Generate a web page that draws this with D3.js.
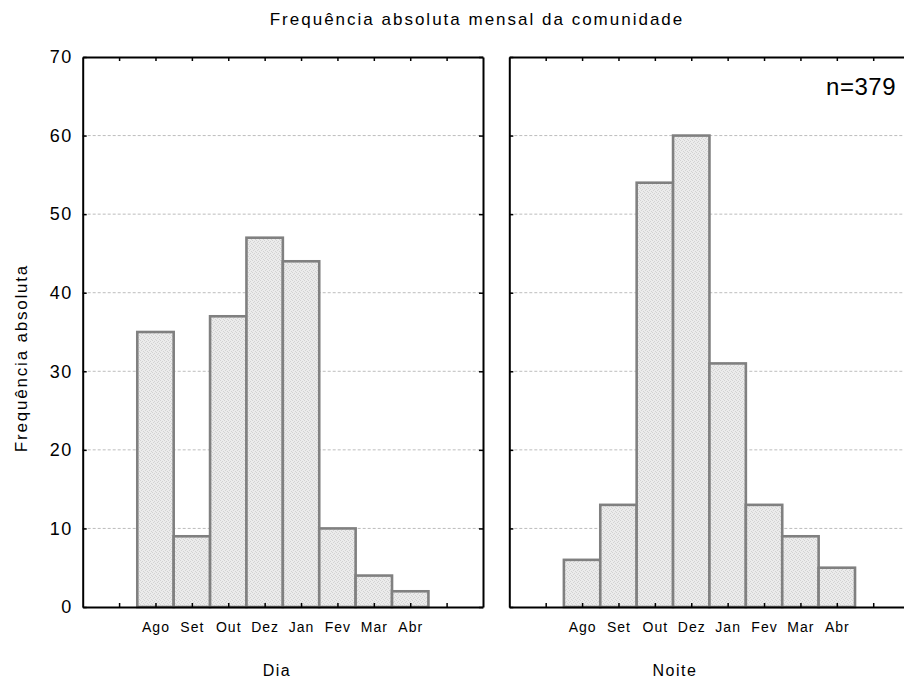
<!DOCTYPE html>
<html><head><meta charset="utf-8">
<script src="https://cdn.jsdelivr.net/npm/d3@7"></script>
<style>
body{margin:0;background:#fff;}
svg{display:block;font-family:Arial,"Liberation Sans",sans-serif;}
</style></head><body>
<svg id="chart" width="904" height="680"></svg>
<script>
const months = ["Ago","Set","Out","Dez","Jan","Fev","Mar","Abr"];
const diaValues = [35, 9, 37, 47, 44, 10, 4, 2];
const noiteValues = [6, 13, 54, 60, 31, 13, 9, 5];
const yTicks = [0,10,20,30,40,50,60,70];
const gridTicks = [10,20,30,40,50,60];
const xTicks = [0,1,2,3,4,5,6,7,8,9];
const panelNames = ["Dia","Noite"];
const title = "Frequência absoluta mensal da comunidade";
const yTitle = "Frequência absoluta";
const nLabel = "n=379";

const svg = d3.select("#chart");
const defs = svg.append("defs");
const pat = defs.append("pattern").attr("id","dots").attr("patternUnits","userSpaceOnUse")
  .attr("width",4).attr("height",4);
pat.append("rect").attr("width",4).attr("height",4).attr("fill","#ebebeb");
[[0,0],[2,1],[1,2],[3,3]].forEach(([a,b]) =>
  pat.append("rect").attr("x",a).attr("y",b).attr("width",1).attr("height",1).attr("fill","#d2d2d2"));

const y = d3.scaleLinear().domain([0,70]).range([607,57]);
const panels = [
  {x: d3.scaleLinear().domain([-1,10]).range([82.7,483]), values: diaValues, name: panelNames[0], labelX: 277, right: true, leftLabels: true},
  {x: d3.scaleLinear().domain([-1,10]).range([509.3,909.6]), values: noiteValues, name: panelNames[1], labelX: 675, right: false, leftLabels: false}
];

panels.forEach(p => {
  const g = svg.append("g");
  const [x0,x1] = p.x.range();
  g.selectAll("line.grid").data(gridTicks).join("line")
    .attr("x1",x0).attr("x2",x1).attr("y1",d=>y(d)).attr("y2",d=>y(d))
    .attr("stroke","#bdbdbd").attr("stroke-width",1).attr("stroke-dasharray","3,2");
  g.selectAll("rect.bar").data(p.values).join("rect")
    .attr("x",(d,i)=>p.x(i+0.5))
    .attr("width",(d,i)=>p.x(i+1.5)-p.x(i+0.5))
    .attr("y",d=>y(d)).attr("height",d=>y(0)-y(d))
    .attr("fill","url(#dots)").attr("stroke","#808080").attr("stroke-width",2.6);
  const bottom = g.append("g").attr("transform",`translate(0,${y(0)})`)
    .call(d3.axisBottom(p.x).tickValues(xTicks).tickSize(-4).tickSizeOuter(0).tickPadding(15)
      .tickFormat(d => months[d-1] || ""));
  const top = g.append("g").attr("transform",`translate(0,${y(70)})`)
    .call(d3.axisTop(p.x).tickValues(xTicks).tickSize(-4).tickSizeOuter(0).tickFormat(""));
  const left = g.append("g").attr("transform",`translate(${x0},0)`)
    .call(d3.axisLeft(y).tickValues(yTicks).tickSize(-4).tickSizeOuter(0).tickPadding(10)
      .tickFormat(p.leftLabels ? d3.format("d") : ""));
  [bottom, top, left].forEach(a => {
    a.select(".domain").attr("stroke","#000").attr("stroke-width",2);
    a.selectAll(".tick line").attr("stroke","#000").attr("stroke-width",1.5);
  });
  bottom.selectAll("text").attr("font-size",14).attr("letter-spacing","1px").attr("fill","#000")
    .attr("font-family","Arial, 'Liberation Sans', sans-serif");
  left.selectAll("text").attr("font-size",18).attr("letter-spacing","1.5px").attr("fill","#000")
    .attr("font-family","Arial, 'Liberation Sans', sans-serif");
  if (p.right) {
    const r = g.append("g").attr("transform",`translate(${x1},0)`)
      .call(d3.axisRight(y).tickValues(yTicks).tickSize(-4).tickSizeOuter(0).tickFormat(""));
    r.select(".domain").attr("stroke","#000").attr("stroke-width",2);
    r.selectAll(".tick line").attr("stroke","#000").attr("stroke-width",1.5);
  }
  svg.append("text").attr("x",p.labelX).attr("y",676).attr("text-anchor","middle")
    .attr("font-size",16).attr("letter-spacing","1.5px").text(p.name);
});

svg.append("text").attr("x",477).attr("y",25).attr("text-anchor","middle")
  .attr("font-size",17).attr("letter-spacing","2px").text(title);
svg.append("text").attr("transform","translate(27,358) rotate(-90)").attr("text-anchor","middle")
  .attr("font-size",17).attr("letter-spacing","1.8px").text(yTitle);
svg.append("text").attr("x",896).attr("y",95).attr("text-anchor","end")
  .attr("font-size",24).attr("letter-spacing","0.5px").text(nLabel);
</script>
</body></html>
